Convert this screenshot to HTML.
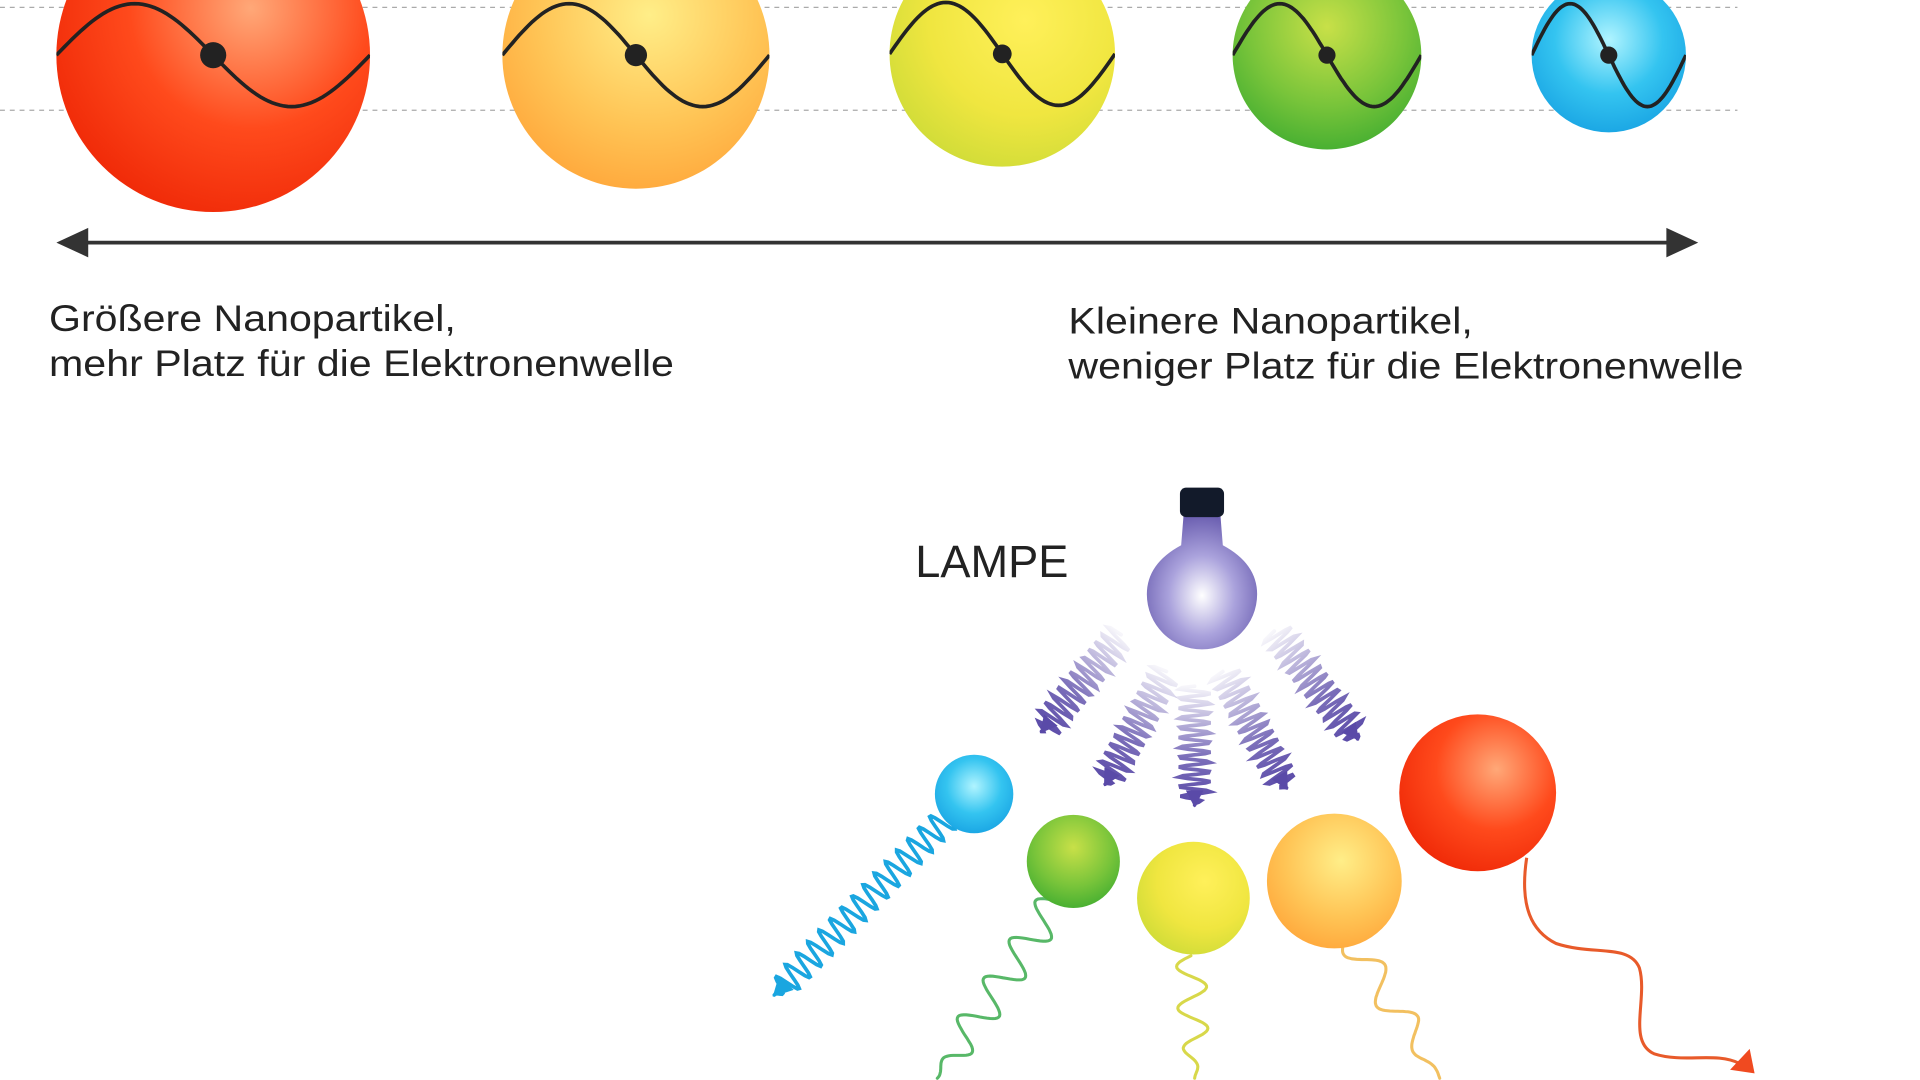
<!DOCTYPE html>
<html><head><meta charset="utf-8"><style>
html,body{margin:0;padding:0;background:#fff;width:1920px;height:1080px;overflow:hidden}
svg{display:block}
text{font-family:"Liberation Sans",sans-serif;fill:#222}
</style></head><body>
<svg id="s" width="1920" height="1080" viewBox="0 0 1567 881.4" preserveAspectRatio="none" xmlns="http://www.w3.org/2000/svg">
<defs>
<radialGradient id="gR" cx="0.62" cy="0.35" r="0.7"><stop offset="0" stop-color="#ffa878"/><stop offset="0.55" stop-color="#ff4a1c"/><stop offset="1" stop-color="#f02a08"/></radialGradient>
<radialGradient id="gO" cx="0.55" cy="0.35" r="0.7"><stop offset="0" stop-color="#ffee88"/><stop offset="0.6" stop-color="#ffc455"/><stop offset="1" stop-color="#ffa63a"/></radialGradient>
<radialGradient id="gY" cx="0.6" cy="0.35" r="0.7"><stop offset="0" stop-color="#fff05a"/><stop offset="0.6" stop-color="#f0e640"/><stop offset="1" stop-color="#d0dc38"/></radialGradient>
<radialGradient id="gG" cx="0.5" cy="0.35" r="0.7"><stop offset="0" stop-color="#c8e048"/><stop offset="0.6" stop-color="#78c43a"/><stop offset="1" stop-color="#3fac30"/></radialGradient>
<radialGradient id="gB" cx="0.5" cy="0.4" r="0.7"><stop offset="0" stop-color="#b0f4ff"/><stop offset="0.5" stop-color="#34c4f0"/><stop offset="1" stop-color="#129ce0"/></radialGradient>
<radialGradient id="gL" cx="0.5" cy="0.6" r="0.6"><stop offset="0" stop-color="#ffffff"/><stop offset="0.5" stop-color="#aaa2dc"/><stop offset="1" stop-color="#6a5eb0"/></radialGradient>
<clipPath id="c1"><circle cx="174" cy="45" r="128"/></clipPath>
<clipPath id="c2"><circle cx="519" cy="45" r="109"/></clipPath>
<clipPath id="c3"><circle cx="818" cy="44" r="92"/></clipPath>
<clipPath id="c4"><circle cx="1083" cy="45" r="77"/></clipPath>
<clipPath id="c5"><circle cx="1313" cy="45" r="63"/></clipPath>
</defs>
<line x1="0" y1="6" x2="1418" y2="6" stroke="#aaa" stroke-dasharray="4 4" stroke-width="1"/>
<line x1="0" y1="90" x2="1418" y2="90" stroke="#aaa" stroke-dasharray="4 4" stroke-width="1"/>
<circle cx="174" cy="45" r="128" fill="url(#gR)"/>
<circle cx="519" cy="45" r="109" fill="url(#gO)"/>
<circle cx="818" cy="44" r="92" fill="url(#gY)"/>
<circle cx="1083" cy="45" r="77" fill="url(#gG)"/>
<circle cx="1313" cy="45" r="63" fill="url(#gB)"/>
<g id="sines" fill="none" stroke="#222" stroke-width="3"></g>
<line x1="60" y1="198" x2="1372" y2="198" stroke="#333" stroke-width="3"/>
<polygon points="46,198 72,186 72,210" fill="#333"/>
<polygon points="1386,198 1360,186 1360,210" fill="#333"/>
<text x="40" y="270" font-size="30" textLength="332" lengthAdjust="spacingAndGlyphs">Größere Nanopartikel,</text>
<text x="40" y="307" font-size="30" textLength="510" lengthAdjust="spacingAndGlyphs">mehr Platz für die Elektronenwelle</text>
<text x="872" y="272" font-size="30" textLength="330" lengthAdjust="spacingAndGlyphs">Kleinere Nanopartikel,</text>
<text x="872" y="309" font-size="30" textLength="551" lengthAdjust="spacingAndGlyphs">weniger Platz für die Elektronenwelle</text>
<text x="747" y="471" font-size="37" textLength="125" lengthAdjust="spacingAndGlyphs">LAMPE</text>
<path d="M966 420 L996 420 L998 445 Q1026 460 1026 485 A45 45 0 1 1 936 485 Q936 460 964 445 Z" fill="url(#gL)"/>
<rect x="963" y="398" width="36" height="24" rx="5" fill="#121a2a"/>
<g id="waves" fill="none"></g>
<circle cx="795" cy="648" r="32" fill="url(#gB)"/>
<circle cx="876" cy="703" r="38" fill="url(#gG)"/>
<circle cx="974" cy="733" r="46" fill="url(#gY)"/>
<circle cx="1089" cy="719" r="55" fill="url(#gO)"/>
<circle cx="1206" cy="647" r="64" fill="url(#gR)"/>
</svg>
<script>
var NS="http://www.w3.org/2000/svg";
function el(t,a,p){var e=document.createElementNS(NS,t);for(var k in a)e.setAttribute(k,a[k]);p.appendChild(e);return e;}
var sg=document.getElementById('sines');
[[174,45,128,1],[519,45,109,2],[818,44,92,3],[1083,45,77,4],[1313,45,63,5]].forEach(function(c){
 var cx=c[0],cy=c[1],r=c[2],d="";
 for(var i=0;i<=80;i++){var x=cx-r+2*r*i/80;var y=cy+42*Math.sin(Math.PI*(x-cx)/r);d+=(i?"L":"M")+x.toFixed(1)+" "+y.toFixed(1);}
 el('path',{d:d,'clip-path':'url(#c'+c[3]+')'},sg);
 el('circle',{cx:cx,cy:cy,r:Math.max(7,r/12),fill:'#222',stroke:'none'},sg);
});
var wg=document.getElementById('waves');var gid=0;
function wave(x1,y1,x2,y2,amp,wl,col,w,fade,arrow){
 var dx=x2-x1,dy=y2-y1,L=Math.hypot(dx,dy),ux=dx/L,uy=dy/L,px=-uy,py=ux,d="";
 var n=Math.ceil(L/1.2);
 for(var i=0;i<=n;i++){var t=i/n*L;var a=amp*Math.sin(2*Math.PI*t/wl)*(t>L-wl?(L-t)/wl:1);var x=x1+ux*t+px*a,y=y1+uy*t+py*a;d+=(i?"L":"M")+x.toFixed(1)+" "+y.toFixed(1);}
 var stroke=col;
 if(fade){var id='wg'+(gid++);var g=el('linearGradient',{id:id,gradientUnits:'userSpaceOnUse',x1:x1,y1:y1,x2:x2,y2:y2},document.querySelector('defs'));
  el('stop',{offset:0,'stop-color':col,'stop-opacity':0.05},g);el('stop',{offset:0.6,'stop-color':col,'stop-opacity':0.8},g);el('stop',{offset:1,'stop-color':col,'stop-opacity':1},g);stroke='url(#'+id+')';}
 el('path',{d:d,stroke:stroke,'stroke-width':w,'stroke-linecap':'round'},wg);
 if(arrow){var s=arrow,bx=x2-ux*s,by=y2-uy*s;
  el('polygon',{points:(x2+ux*2)+","+(y2+uy*2)+" "+(bx+px*s*0.6)+","+(by+py*s*0.6)+" "+(bx-px*s*0.6)+","+(by-py*s*0.6),fill:col},wg);}
}
var P='#5a4aa8';
wave(915,518,850,597,13,8,P,3,1,12);
wave(952,548,902,640,13,8,P,3,1,12);
wave(975,560,975,657,13,8,P,3,1,12);
wave(998,548,1050,643,13,8,P,3,1,12);
wave(1040,515,1108,603,13,8,P,3,1,12);
wave(778,662,632,812,11,13,'#1aa6e0',3,0,14);
wave(862,735,765,880,14,38,'#58b868',2.5,0,0);
wave(972,780,975,880,12,34,'#d8d84a',2.5,0,0);
wave(1100,762,1175,880,12,50,'#f2c060',2.5,0,0);
var d="M1246 700 C1240 740 1250 760 1270 770 C1300 780 1330 770 1338 790 C1345 815 1328 850 1350 860 C1375 868 1400 858 1420 868";
el('path',{d:d,stroke:'#e85a2a','stroke-width':2.5,fill:'none'},wg);
el('polygon',{points:"1432,876 1412,873 1428,856",fill:'#f04a20'},wg);
</script>
</body></html>
